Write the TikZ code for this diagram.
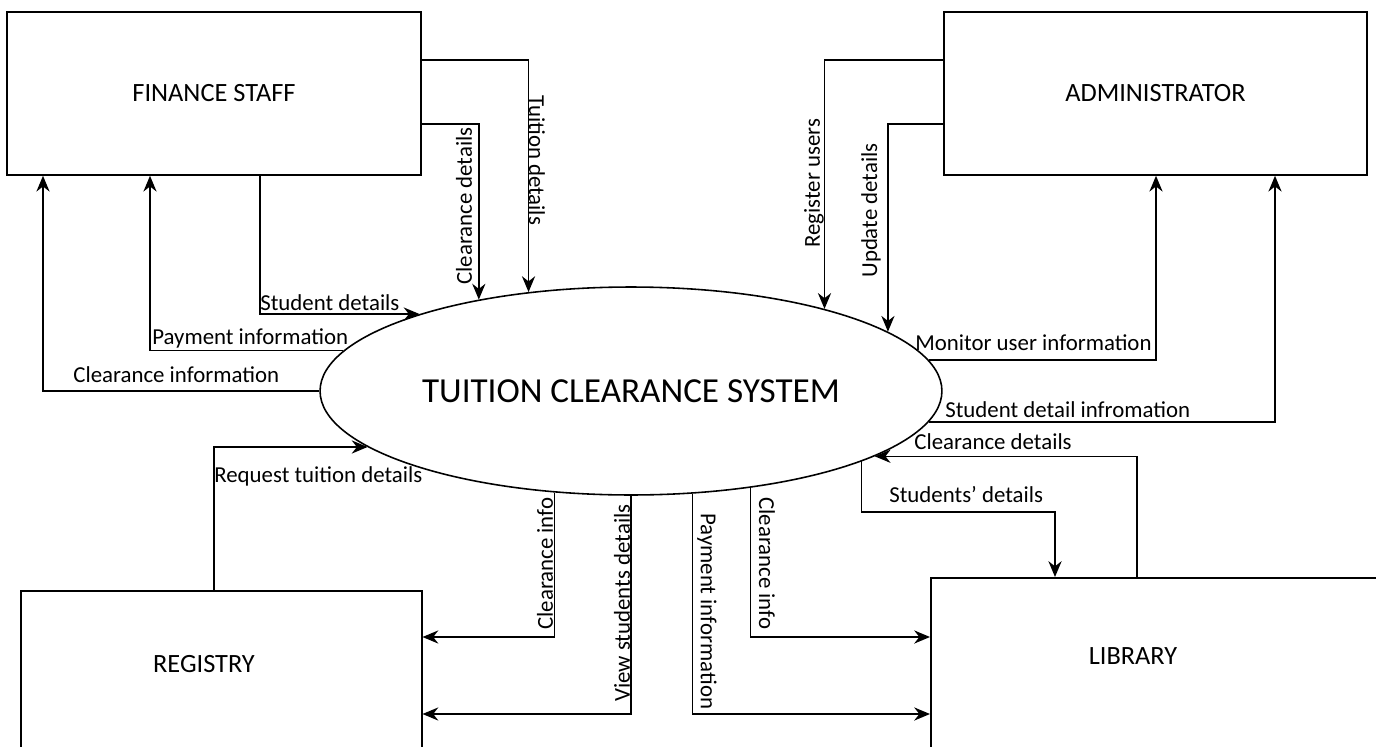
\documentclass[tikz,border=0pt]{standalone}
\usepackage{fontspec}
\setmainfont{Carlito}
\usetikzlibrary{shapes.geometric}
\usetikzlibrary{arrows.meta}

\tikzset{
  entity/.style={draw,rectangle,line width=0.9pt,inner sep=0pt,font=\fontsize{15}{18}\selectfont},
  entname/.style={inner sep=0pt,font=\fontsize{15}{18}\selectfont},
  process/.style={draw,ellipse,line width=0.9pt,inner sep=0pt,minimum width=12.44cm,minimum height=4.16cm,font=\fontsize{20}{24}\selectfont},
  flow/.style={line width=0.9pt,-{Stealth[length=9pt,width=7.5pt]}},
  lbl/.style={inner sep=0pt,font=\fontsize{13}{15}\selectfont},
}

\begin{document}
\begin{tikzpicture}[x=0.02cm,y=-0.02cm]
\clip (0,0) rectangle (1376,747);
\fill[white] (0,0) rectangle (1376,747);

\node[entity,minimum width=8.28cm,minimum height=3.26cm] (fin) at (214,93.5) {FINANCE STAFF};
\node[entity,minimum width=8.46cm,minimum height=3.26cm] (adm) at (1155.5,93.5) {ADMINISTRATOR};
\node[entity,anchor=north west,minimum width=8.02cm,minimum height=4cm] (reg) at (20,590) {};
\node[entity,anchor=north west,minimum width=9.2cm,minimum height=4cm] (lib) at (930,577) {};
\node[entname] (regname) at (204,664) {REGISTRY};
\node[entname] (libname) at (1133,656) {LIBRARY};
\node[process] (sys) at (631,391) {TUITION CLEARANCE SYSTEM};

% finance staff
\draw[flow] (fin.east |- 0,60) -| (sys.136.4);
\draw[flow] (fin.east |- 0,124) -| (sys.149.8);
\draw[flow] (fin.south -| 260,0) |- (sys.160.3);
\draw[flow] (sys.172.3) -| (fin.south -| 150,0);
\draw[flow] (sys.west) -| (fin.south -| 43,0);
\node[lbl,anchor=west,rotate=-90] (l1) at (537,95) {Tuition details};
\node[lbl,anchor=west,rotate=90] (l2) at (464,285) {Clearance details};
\node[lbl,anchor=west] (l3) at (260,303) {Student details};
\node[lbl,anchor=west] (l4) at (152,338) {Payment information};
\node[lbl,anchor=west] (l5) at (73,375) {Clearance information};

% administrator
\draw[flow] (adm.west |- 0,60) -| (sys.23.2);
\draw[flow] (adm.west |- 0,124) -| (sys.13.6);
\draw[flow] (sys.6) -| (adm.south -| 1156,0);
\draw[flow] (sys.354) -| (adm.south -| 1275,0);
\node[lbl,anchor=west,rotate=90] (l6) at (814,248) {Register users};
\node[lbl,anchor=west,rotate=90] (l7) at (871,278) {Update details};
\node[lbl,anchor=west] (l8) at (915,343) {Monitor user information};
\node[lbl,anchor=west] (l9) at (945,410) {Student detail infromation};

% library
\draw[flow] (lib.north -| 1137,0) |- (sys.345.4);
\draw[flow] (sys.343.1) |- (1055,512) -- (lib.north -| 1055,0);
\draw[flow] (sys.321.9) |- (lib.west |- 0,637);
\draw[flow] (sys.301.7) |- (lib.west |- 0,714);
\node[lbl,anchor=west] (l10) at (914,442) {Clearance details};
\node[lbl,anchor=west] (l11) at (889,495) {Students’ details};
\node[lbl,anchor=west,rotate=-90] (l12) at (767,497) {Clearance info};
\node[lbl,anchor=west,rotate=-90] (l13) at (707,513) {Payment information};

% registry
\draw[flow] (reg.north -| 214,0) |- (sys.192.1);
\draw[flow] (sys.233.4) |- (reg.east |- 0,637);
\draw[flow] (sys.south) |- (reg.east |- 0,714);
\node[lbl,anchor=west] (l14) at (214,476) {Request tuition details};
\node[lbl,anchor=west,rotate=90] (l15) at (545,630) {Clearance info};
\node[lbl,anchor=west,rotate=90] (l16) at (622,702) {View students details};

\end{tikzpicture}
\end{document}
